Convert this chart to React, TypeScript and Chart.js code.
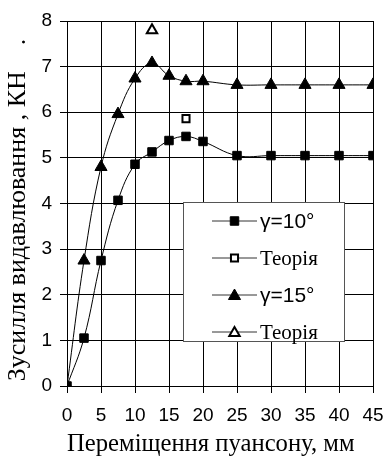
import React, { useEffect, useRef } from 'react';
import { Chart, registerables } from 'chart.js';

Chart.register(...registerables);

// ---- data ----
const displacement = [0, 2.5, 5, 7.5, 10, 12.5, 15, 17.5, 20, 25, 30, 35, 40, 45];
const force10 = [0, 1.05, 2.75, 4.07, 4.86, 5.13, 5.38, 5.47, 5.36, 5.05, 5.05, 5.05, 5.05, 5.05];
const force15 = [0, 2.75, 4.8, 5.96, 6.74, 7.08, 6.8, 6.68, 6.68, 6.6, 6.6, 6.6, 6.6, 6.6];
const theory10X = [17.5];
const theory10Y = [5.86];
const theory15X = [12.5];
const theory15Y = [7.8];
const seriesLabels = ['γ=10°', 'Теорія', 'γ=15°', 'Теорія'];
const xTickMin = 0;
const xTickMax = 45;
const xTickStep = 5;
const yTickMin = 0;
const yTickMax = 8;
const yTickStep = 1;
const xTitle = 'Переміщення пуансону, мм   ';
const yTitle = 'Зусилля видавлювання , КН    .  ';

const SANS = "'Liberation Sans', Arial, sans-serif";
const SERIF = "'Liberation Serif', 'Times New Roman', serif";

function toPoints(xs: number[], ys: number[]) {
  return xs.map((x, i) => ({ x, y: ys[i] }));
}

function drawMarker(ctx: CanvasRenderingContext2D, style: string, x: number, y: number, r: number, fill: string, stroke: string, lw: number) {
  ctx.save();
  ctx.beginPath();
  if (style === 'rect') {
    const s = Math.SQRT1_2 * r;
    ctx.rect(x - s, y - s, 2 * s, 2 * s);
  } else {
    let rad = 0;
    ctx.moveTo(x + Math.sin(rad) * r, y - Math.cos(rad) * r);
    rad += (2 * Math.PI) / 3;
    ctx.lineTo(x + Math.sin(rad) * r, y - Math.cos(rad) * r);
    rad += (2 * Math.PI) / 3;
    ctx.lineTo(x + Math.sin(rad) * r, y - Math.cos(rad) * r);
    ctx.closePath();
  }
  ctx.fillStyle = fill;
  ctx.fill();
  ctx.lineWidth = lw;
  ctx.strokeStyle = stroke;
  ctx.stroke();
  ctx.restore();
}

const boxLegend = {
  id: 'boxLegend',
  afterDraw(chart: any) {
    const ctx: CanvasRenderingContext2D = chart.ctx;
    const left = 183.5, top = 202.5, right = 344.5, bottom = 341.5;
    ctx.save();
    ctx.fillStyle = '#ffffff';
    ctx.fillRect(left, top, right - left, bottom - top);
    ctx.strokeStyle = '#555555';
    ctx.lineWidth = 1;
    ctx.strokeRect(left, top, right - left, bottom - top);
    const rowY = [221, 258, 295, 332];
    chart.data.datasets.forEach((ds: any, i: number) => {
      const y = rowY[i];
      ctx.beginPath();
      ctx.moveTo(212, y);
      ctx.lineTo(257, y);
      ctx.strokeStyle = '#333333';
      ctx.lineWidth = 1;
      ctx.stroke();
      drawMarker(ctx, ds.pointStyle, 234.5, y + (ds.pointStyle === 'triangle' ? 1 : 0), ds.pointRadius, ds.pointBackgroundColor, ds.pointBorderColor, ds.pointBorderWidth);
      const isSans = ds.label.startsWith('γ');
      ctx.font = isSans ? `21px ${SANS}` : `21px ${SERIF}`;
      ctx.fillStyle = '#000000';
      ctx.textAlign = 'left';
      ctx.textBaseline = 'middle';
      ctx.fillText(ds.label, 260, y + 1);
    });
    ctx.restore();
  },
};

export default function App() {
  const canvasRef = useRef<HTMLCanvasElement | null>(null);

  useEffect(() => {
    document.body.style.margin = '0';
    const canvas = canvasRef.current;
    if (!canvas) return;
    const chart = new Chart(canvas, {
      type: 'line',
      data: {
        datasets: [
          {
            label: seriesLabels[0],
            data: toPoints(displacement, force10),
            borderColor: '#000000',
            borderWidth: 1,
            tension: 0.4,
            pointStyle: 'rect',
            pointRadius: 6,
            pointBackgroundColor: '#000000',
            pointBorderColor: '#000000',
            pointBorderWidth: 1,
          },
          {
            label: seriesLabels[1],
            data: toPoints(theory10X, theory10Y),
            showLine: false,
            pointStyle: 'rect',
            pointRadius: 5,
            pointBackgroundColor: '#ffffff',
            pointBorderColor: '#000000',
            pointBorderWidth: 2,
          },
          {
            label: seriesLabels[2],
            data: toPoints(displacement, force15),
            borderColor: '#000000',
            borderWidth: 1,
            tension: 0.4,
            pointStyle: 'triangle',
            pointRadius: 7,
            pointBackgroundColor: '#000000',
            pointBorderColor: '#000000',
            pointBorderWidth: 1,
          },
          {
            label: seriesLabels[3],
            data: toPoints(theory15X, theory15Y),
            showLine: false,
            pointStyle: 'triangle',
            pointRadius: 6,
            pointBackgroundColor: '#ffffff',
            pointBorderColor: '#000000',
            pointBorderWidth: 2,
          },
        ],
      },
      options: {
        animation: false,
        responsive: true,
        maintainAspectRatio: false,
        events: [],
        layout: { padding: { left: 0, right: 14, top: 21, bottom: 0 } },
        plugins: {
          legend: { display: false },
          tooltip: { enabled: false },
          title: { display: false },
        },
        scales: {
          x: {
            type: 'linear',
            min: xTickMin,
            max: xTickMax,
            ticks: {
              stepSize: xTickStep,
              color: '#000000',
              font: { family: SANS, size: 19 },
              padding: 11,
              maxRotation: 0,
            },
            grid: { color: '#000000', lineWidth: 1, tickLength: 7, drawTicks: true },
            border: { color: '#000000', width: 1 },
            title: {
              display: true,
              text: xTitle,
              color: '#000000',
              font: { family: SERIF, size: 26, lineHeight: 0.9 },
              padding: { top: 0, bottom: 0 },
            },
            afterFit: (scale: any) => {
              scale.height = 70;
              scale.paddingLeft = 0;
              scale.paddingRight = 0;
            },
          },
          y: {
            type: 'linear',
            min: yTickMin,
            max: yTickMax,
            ticks: {
              stepSize: yTickStep,
              color: '#000000',
              font: { family: SANS, size: 19 },
              padding: 8,
            },
            grid: { color: '#000000', lineWidth: 1, tickLength: 7, drawTicks: true },
            border: { color: '#000000', width: 1 },
            title: {
              display: true,
              text: yTitle,
              color: '#000000',
              font: { family: SERIF, size: 26, lineHeight: 1.2 },
              padding: { top: 3, bottom: 0 },
            },
            afterFit: (scale: any) => {
              scale.width = 67;
              scale.paddingTop = 0;
              scale.paddingBottom = 0;
            },
          },
        },
      },
      plugins: [boxLegend],
    } as any);
    return () => chart.destroy();
  }, []);

  return (
    <div style={{ position: 'relative', width: 387, height: 456 }}>
      <canvas ref={canvasRef} />
    </div>
  );
}
